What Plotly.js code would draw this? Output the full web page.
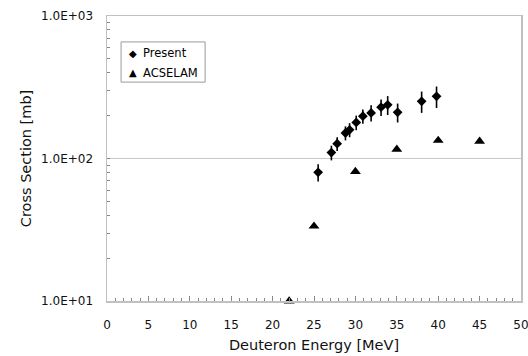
<!DOCTYPE html>
<html>
<head>
<meta charset="utf-8">
<script src="https://cdn.plot.ly/plotly-3.0.1.min.js"></script>
<style>html,body{margin:0;padding:0;background:#fff;}#chart{width:528px;height:356px;}</style>
</head>
<body>
<div id="chart"></div>
<script>
// Present data (Deuteron energy [MeV], cross section [mb], error [mb])
var presentE = [25.5, 27.1, 27.8, 28.8, 29.3, 30.1, 30.9, 31.9, 33.1, 33.9, 35.1, 38.0, 39.8];
var presentXS = [80, 110, 127, 151, 159, 179, 198, 209, 229, 238, 211, 252, 273];
var presentErr = [11, 13, 14, 17, 18, 21, 23, 27, 30, 36, 32, 43, 47];
// ACSELAM evaluation
var acselamE = [22, 25, 30, 35, 40, 45];
var acselamXS = [10, 33.5, 81, 116, 134, 132];
// Axis tick labels
var yTickVals = [10, 100, 1000];
var yTickText = ['1.0E+01', '1.0E+02', '1.0E+03'];
var xTickVals = [0, 5, 10, 15, 20, 25, 30, 35, 40, 45, 50];
// Legend entries
var legendNames = ['Present', 'ACSELAM'];
var legendGlyphs = ['\u25C6', '\u25B2'];

var yMinor = [];
[10, 100].forEach(function (d) { for (var k = 2; k <= 9; k++) yMinor.push(k * d); });

var font = 'DejaVu Sans, sans-serif';

var traces = [
  {
    x: presentE, y: presentXS, name: legendNames[0], type: 'scatter', mode: 'markers',
    marker: {symbol: 'diamond', size: 7.5, color: '#000'},
    error_y: {type: 'data', array: presentErr, visible: true, color: '#000', thickness: 1.6, width: 0}
  },
  {
    x: acselamE, y: acselamXS, name: legendNames[1], type: 'scatter', mode: 'markers',
    marker: {symbol: 'triangle-up', size: 9.5, color: '#000'},
    cliponaxis: false
  }
];

// legend drawn as a framed box with glyph + text (paper coordinates of the plot area)
var legBox = {x0: 0.034, x1: 0.237, y0: 0.768, y1: 0.909};
var legRows = [0.870, 0.801];
var annotations = [];
legendNames.forEach(function (nm, i) {
  annotations.push({xref: 'paper', yref: 'paper', x: 0.062, y: legRows[i], text: legendGlyphs[i],
    showarrow: false, xanchor: 'center', yanchor: 'middle', font: {family: font, size: 10, color: '#000'}});
  annotations.push({xref: 'paper', yref: 'paper', x: 0.081, y: legRows[i], text: nm,
    showarrow: false, xanchor: 'left', yanchor: 'middle', font: {family: font, size: 11.5, color: '#000'}});
});

var layout = {
  width: 528, height: 356,
  margin: {l: 107, r: 7, t: 16, b: 55},
  paper_bgcolor: '#fff', plot_bgcolor: '#fff',
  showlegend: false,
  font: {family: font, color: '#000'},
  shapes: [{type: 'rect', xref: 'paper', yref: 'paper', x0: legBox.x0, x1: legBox.x1, y0: legBox.y0, y1: legBox.y1,
    line: {color: '#9a9a9a', width: 1}, fillcolor: '#fff', layer: 'above'}],
  annotations: annotations,
  xaxis: {
    range: [0, 50], tickmode: 'array', tickvals: xTickVals,
    ticks: 'inside', ticklen: 5, tickcolor: '#888', tickwidth: 1,
    minor: {dtick: 1, ticks: 'inside', ticklen: 3, tickcolor: '#888', showgrid: false},
    showgrid: false, zeroline: false,
    showline: true, mirror: true, linecolor: '#c0c0c0', linewidth: 1.5,
    tickfont: {family: font, size: 12, color: '#111'},
    ticklabelstandoff: 12, ticklabeloverflow: 'allow',
    title: {text: 'Deuteron Energy [MeV]', font: {family: font, size: 14.5, color: '#111'}, standoff: 9}
  },
  yaxis: {
    type: 'log', range: [1, 3], tickmode: 'array', tickvals: yTickVals, ticktext: yTickText,
    ticks: 'inside', ticklen: 3, tickcolor: '#888',
    minor: {tickmode: 'array', tickvals: yMinor, ticks: 'inside', ticklen: 3, tickcolor: '#888', showgrid: false},
    showgrid: true, gridcolor: '#c8c8c8', gridwidth: 1.5, zeroline: false,
    showline: true, mirror: true, linecolor: '#c0c0c0', linewidth: 1.5,
    tickfont: {family: font, size: 12, color: '#111'},
    ticklabelstandoff: 10,
    title: {text: 'Cross Section [mb]', font: {family: font, size: 14.5, color: '#111'}, standoff: 6}
  }
};

Plotly.newPlot('chart', traces, layout, {displayModeBar: false, staticPlot: true});
</script>
</body>
</html>
